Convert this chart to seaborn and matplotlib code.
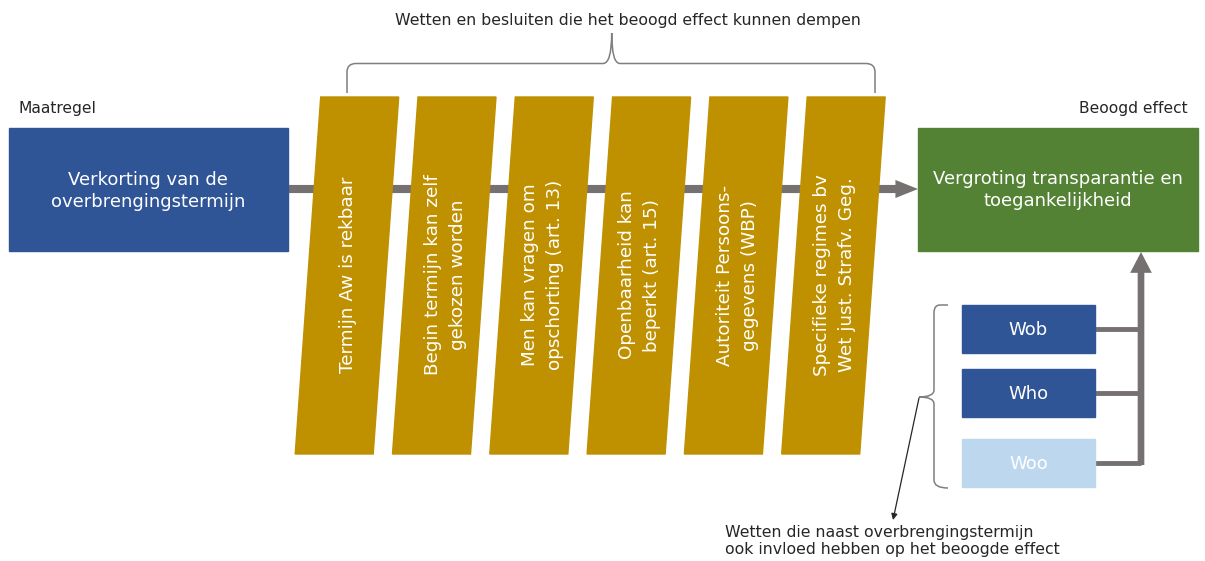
import matplotlib
matplotlib.use("Agg")
import matplotlib.pyplot as plt
import seaborn as sns
from matplotlib.patches import Polygon, Rectangle, PathPatch, FancyArrowPatch
from matplotlib.path import Path

# ---- content ----
top_label = "Wetten en besluiten die het beoogd effect kunnen dempen"
left_header = "Maatregel"
right_header = "Beoogd effect"
measure_text = "Verkorting van de\noverbrengingstermijn"
effect_text = "Vergroting transparantie en\ntoegankelijkheid"
damping_laws = [
    "Termijn Aw is rekbaar",
    "Begin termijn kan zelf\ngekozen worden",
    "Men kan vragen om\nopschorting (art. 13)",
    "Openbaarheid kan\nbeperkt (art. 15)",
    "Autoriteit Persoons-\ngegevens (WBP)",
    "Specifieke regimes bv\nWet just. Strafv. Geg.",
]
other_laws = ["Wob", "Who", "Woo"]
other_law_colors = ["#2F5597", "#2F5597", "#BDD7EE"]
bottom_note = "Wetten die naast overbrengingstermijn\nook invloed hebben op het beoogde effect"

BLUE = "#2F5597"
GREEN = "#548235"
GOLD = "#BF9000"
GRAY = "#767171"
TXT = "#262626"

sns.set_theme(style="white")
plt.rcParams["font.family"] = ["DejaVu Sans"]

W, H = 1205, 561
fig = plt.figure(figsize=(W / 100, H / 100), dpi=100)
ax = fig.add_axes([0, 0, 1, 1])
ax.set_xlim(0, W)
ax.set_ylim(H, 0)
ax.axis("off")

# main horizontal arrow
ax.add_patch(FancyArrowPatch((288, 189), (918, 189),
                             arrowstyle="simple,head_width=1.0,head_length=1.25,tail_width=0.45",
                             mutation_scale=13, color=GRAY, lw=0, zorder=1, shrinkA=0, shrinkB=0))

# measure box
ax.add_patch(Rectangle((9, 128), 279, 123, color=BLUE, zorder=2))
ax.text(148, 191, measure_text, ha="center", va="center", color="white", fontsize=13, linespacing=1.25, zorder=3)
ax.text(18, 108, left_header, ha="left", va="center", color=TXT, fontsize=11.2)

# effect box
ax.add_patch(Rectangle((918, 128), 280, 123, color=GREEN, zorder=2))
ax.text(1058, 190, effect_text, ha="center", va="center", color="white", fontsize=13, linespacing=1.25, zorder=3)
ax.text(1188, 108, right_header, ha="right", va="center", color=TXT, fontsize=11.2)

# damping laws parallelograms
top_y, bot_y = 97, 454
x0, step, width, skew = 320.7, 97.3, 78, 25.5
for i, lab in enumerate(damping_laws):
    xl = x0 + i * step
    pts = [(xl, top_y), (xl + width, top_y), (xl + width - skew, bot_y), (xl - skew, bot_y)]
    ax.add_patch(Polygon(pts, closed=True, color=GOLD, zorder=2))
    cx = xl + width / 2 - skew / 2 + 1
    ax.text(cx, 275, lab, rotation=90, ha="center", va="center", color="white",
            fontsize=13.2, linespacing=1.5, zorder=3, rotation_mode="anchor")

# top label + brace
ax.text(627.5, 20, top_label, ha="center", va="center", color=TXT, fontsize=11.3)
bv = [(347, 93), (347, 72), (347, 63.5), (356, 63.5),
      (603, 63.5), (611.7, 63.5), (611.7, 33),
      (611.7, 63.5), (620, 63.5),
      (866, 63.5), (875, 63.5), (875, 72), (875, 93)]
codes = [Path.MOVETO, Path.LINETO, Path.CURVE3, Path.CURVE3,
         Path.LINETO, Path.CURVE3, Path.CURVE3,
         Path.CURVE3, Path.CURVE3,
         Path.LINETO, Path.CURVE3, Path.CURVE3, Path.LINETO]
ax.add_patch(PathPatch(Path(bv, codes), fill=False, edgecolor="#7F7F7F", lw=1.1, zorder=2))

# other laws boxes
box_x, box_w, box_h = 962, 133, 48
box_tops = [305, 369, 439]
vx = 1141
for lab, col, yt in zip(other_laws, other_law_colors, box_tops):
    ax.add_patch(Rectangle((box_x, yt), box_w, box_h, color=col, zorder=2))
    ax.text(box_x + box_w / 2, yt + box_h / 2 + 1, lab, ha="center", va="center", color="white", fontsize=13, zorder=3)
    ax.plot([box_x + box_w, vx], [yt + 24, yt + 24], color=GRAY, lw=3.5, solid_capstyle="butt", zorder=1)
# vertical arrow up to effect box
ax.add_patch(FancyArrowPatch((vx, 465), (vx, 252),
                             arrowstyle="simple,head_width=1.3,head_length=1.25,tail_width=0.4",
                             mutation_scale=12, color=GRAY, lw=0, zorder=1, shrinkA=0, shrinkB=0))

# left brace for other laws
lb = [(948, 305), (940, 305), (934, 305), (934, 313),
      (934, 390), (934, 397), (919, 397),
      (934, 397), (934, 404),
      (934, 480), (934, 488), (948, 488)]
lcodes = [Path.MOVETO, Path.LINETO, Path.CURVE3, Path.CURVE3,
          Path.LINETO, Path.CURVE3, Path.CURVE3,
          Path.CURVE3, Path.CURVE3,
          Path.LINETO, Path.CURVE3, Path.CURVE3]
ax.add_patch(PathPatch(Path(lb, lcodes), fill=False, edgecolor="#7F7F7F", lw=1.1, zorder=2))

ax.annotate("", xy=(893, 520), xytext=(919, 398),
            arrowprops=dict(arrowstyle="-|>", color=TXT, lw=0.9, mutation_scale=9, shrinkA=0, shrinkB=0))

ax.text(725, 541, bottom_note, ha="left", va="center", color=TXT, fontsize=11.3, linespacing=1.15)

fig.savefig("out.png", dpi=100)
